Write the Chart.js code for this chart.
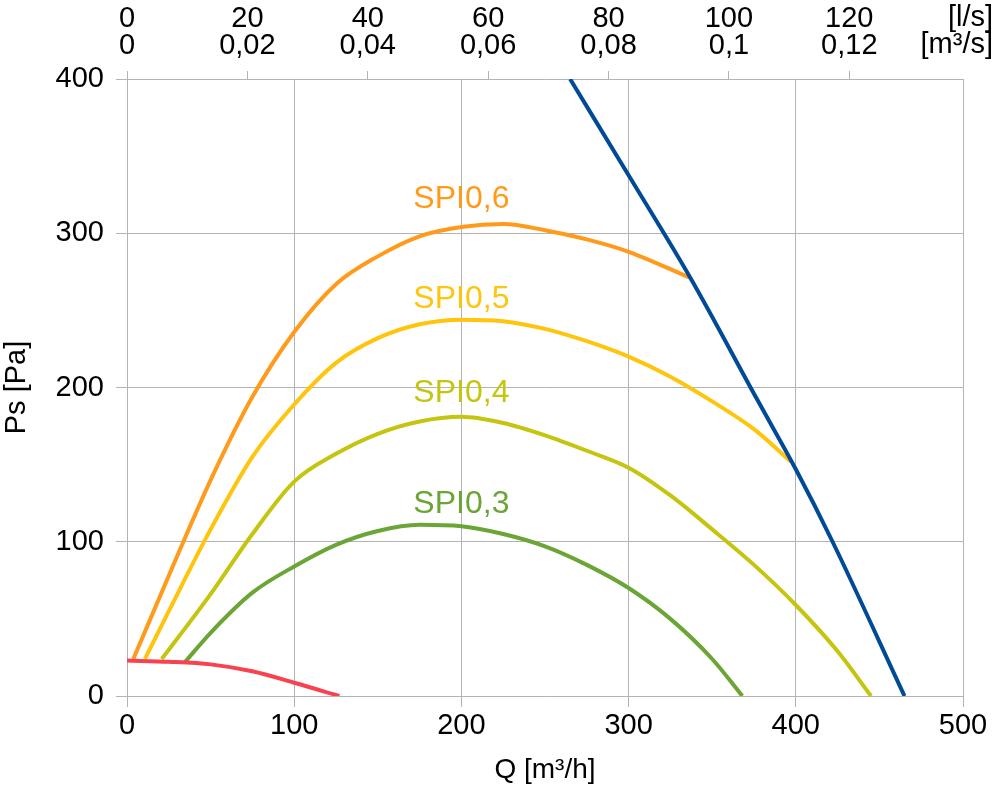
<!DOCTYPE html>
<html>
<head>
<meta charset="utf-8">
<script src="https://cdn.jsdelivr.net/npm/chart.js@4/dist/chart.umd.min.js"></script>
<style>
  html, body { margin: 0; background: #fff; }
</style>
</head>
<body>
<canvas id="chart" width="995" height="788"></canvas>
<script>
// fan curves, Q [m3/h] vs Ps [Pa]
const spi06Q  = [3.8, 25, 50, 75, 100, 125, 150, 175, 200, 225, 250, 275, 300, 337];
const spi06Ps = [24, 78, 140, 194, 236, 267, 285, 298, 304, 306, 302, 296, 288, 271];

const spi05Q  = [10.7, 25, 50, 75, 100, 125, 150, 175, 200, 225, 250, 275, 300, 325, 350, 375, 397];
const spi05Ps = [24, 55, 108, 155, 189, 216, 232, 241, 244, 243, 238, 230, 220, 207, 191, 173, 152];

const spi04Q  = [20.7, 25, 50, 75, 100, 125, 150, 175, 200, 225, 250, 275, 300, 325, 350, 375, 400, 425, 445];
const spi04Ps = [24, 30, 66, 105, 139, 157, 170, 178, 181, 177, 169, 159, 148, 130, 108, 85, 59, 29, 0];

const spi03Q  = [34.7, 50, 75, 100, 125, 150, 175, 200, 225, 250, 275, 300, 325, 350, 368];
const spi03Ps = [22, 41, 67, 84, 98, 107, 111, 110, 105, 97, 85, 70, 50, 24, 0];

const minQ  = [0, 25, 50, 75, 100, 127];
const minPs = [23, 22.2, 20.5, 16, 8.6, 0];

const maxQ  = [265, 302, 337, 377, 400, 422, 465];
const maxPs = [400, 334, 271, 192, 147, 100, 0];

const qTicks  = [0, 100, 200, 300, 400, 500];
const psTicks = [0, 100, 200, 300, 400];
const lsTicks  = [0, 20, 40, 60, 80, 100, 120];
const lsLabels = ['0', '20', '40', '60', '80', '100', '120'];
const m3sLabels = ['0', '0,02', '0,04', '0,06', '0,08', '0,1', '0,12'];

const curveNames = ['SPI0,6', 'SPI0,5', 'SPI0,4', 'SPI0,3'];
const curveNameQ  = [200, 200, 200, 200];
const curveNamePs = [322, 257, 196, 124.5];

const cOrange = '#ff9a1a';
const cYellow = '#ffc40c';
const cLime   = '#c5c510';
const cGreen  = '#6aa535';
const cBlue   = '#004a96';
const cRed    = '#f9424f';
const curveColors = [cOrange, cYellow, cLime, cGreen];
const gridCol = '#b3b3b3';
const fontFam = '"Liberation Sans", Arial, sans-serif';

function pts(qs, ps) {
  return qs.map((q, i) => ({ x: q, y: ps[i] }));
}

function line(data, color) {
  return {
    data: data,
    borderColor: color,
    backgroundColor: color,
    borderWidth: 4,
    pointRadius: 0,
    fill: false,
    cubicInterpolationMode: 'monotone',
  };
}

Chart.defaults.font.family = fontFam;
Chart.defaults.color = '#000';

const textPlugin = {
  id: 'curveText',
  afterDatasetsDraw(chart) {
    const ctx = chart.ctx;
    const x = chart.scales.x;
    const y = chart.scales.y;
    ctx.save();
    ctx.textAlign = 'center';
    ctx.textBaseline = 'middle';
    ctx.font = '32px ' + fontFam;
    curveNames.forEach((t, i) => {
      ctx.fillStyle = curveColors[i];
      ctx.fillText(t, x.getPixelForValue(curveNameQ[i]), y.getPixelForValue(curveNamePs[i]));
    });
    // unit captions of the top axis
    ctx.fillStyle = '#000';
    ctx.textAlign = 'right';
    ctx.font = '29px ' + fontFam;
    ctx.fillText('[l/s]', chart.width - 2, 18);
    ctx.fillText('[m³/s]', chart.width - 2, 45);
    ctx.restore();
  }
};

const ctx = document.getElementById('chart').getContext('2d');
const myChart = new Chart(ctx, {
  type: 'line',
  data: {
    datasets: [
      line(pts(maxQ, maxPs), cBlue),
      line(pts(minQ, minPs), cRed),
      line(pts(spi06Q, spi06Ps), cOrange),
      line(pts(spi05Q, spi05Ps), cYellow),
      line(pts(spi04Q, spi04Ps), cLime),
      line(pts(spi03Q, spi03Ps), cGreen),
    ]
  },
  options: {
    responsive: false,
    animation: false,
    devicePixelRatio: 1,
    layout: { padding: { left: 0, right: 32, top: 0, bottom: 0 } },
    plugins: {
      legend: { display: false },
      tooltip: { enabled: false }
    },
    scales: {
      x: {
        type: 'linear',
        position: 'bottom',
        min: 0,
        max: 500,
        afterBuildTicks: s => { s.ticks = qTicks.map(v => ({ value: v })); },
        afterFit: s => { s.height = 92; },
        grid: { color: gridCol, tickLength: 11 },
        border: { color: gridCol },
        ticks: { font: { size: 29 }, padding: 2, maxRotation: 0 },
        title: {
          display: true,
          text: 'Q [m³/h]',
          font: { size: 28 },
          padding: { top: 0, bottom: 1 }
        }
      },
      xTop: {
        type: 'linear',
        axis: 'x',
        position: 'top',
        min: 0,
        max: 500 / 3.6,
        afterBuildTicks: s => { s.ticks = lsTicks.map(v => ({ value: v })); },
        afterFit: s => { s.height = 79; },
        grid: { drawOnChartArea: false, color: gridCol, tickLength: 8 },
        border: { display: false },
        ticks: {
          font: { size: 29, lineHeight: 0.93 },
          padding: 12,
          maxRotation: 0,
          callback: (v, i) => [lsLabels[i], m3sLabels[i]]
        }
      },
      y: {
        type: 'linear',
        min: 0,
        max: 400,
        afterBuildTicks: s => { s.ticks = psTicks.map(v => ({ value: v })); },
        afterFit: s => { s.width = 127; },
        grid: { color: gridCol, tickLength: 11 },
        border: { color: gridCol },
        ticks: { font: { size: 29 }, padding: 12 },
        title: {
          display: true,
          text: 'Ps [Pa]',
          font: { size: 29 },
          padding: { top: 0, bottom: 0 }
        }
      }
    }
  },
  plugins: [textPlugin]
});
</script>
</body>
</html>
